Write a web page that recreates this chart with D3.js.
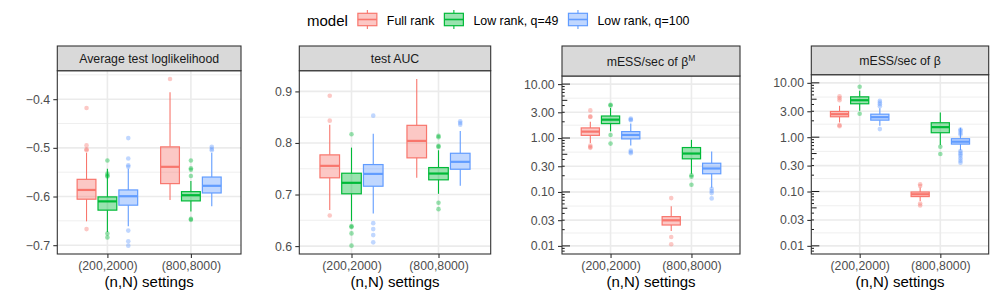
<!DOCTYPE html>
<html>
<head>
<meta charset="utf-8">
<script src="https://cdn.jsdelivr.net/npm/d3@7"></script>
<style>
  body { margin: 0; background: #fff; }
  svg { display: block; font-family: "Liberation Sans", Arial, Helvetica, sans-serif; }
</style>
</head>
<body>
<svg id="chart" width="997" height="299"></svg>
<script>
// ============= Data =============
const settings = ['(200,2000)', '(800,8000)'];
const models = ['Full rank', 'Low rank, q=49', 'Low rank, q=100'];
const modelColors = ['#F8766D', '#00BA38', '#619CFF'];

// Box rows: [setting, model, lower whisker, q1, median, q3, upper whisker]
const loglikBoxes = [
  [0, 0, -0.651, -0.6055, -0.5865, -0.5647, -0.510],
  [0, 1, -0.673, -0.628, -0.610, -0.6008, -0.543],
  [0, 2, -0.661, -0.6178, -0.5994, -0.5865, -0.543],
  [1, 0, -0.607, -0.5735, -0.539, -0.498, -0.386],
  [1, 1, -0.631, -0.609, -0.5973, -0.590, -0.568],
  [1, 2, -0.620, -0.5927, -0.578, -0.560, -0.510]
];
const loglikOutliers = [
  [-0.418, -0.495, -0.503, -0.505, -0.667],
  [-0.526, -0.553, -0.557, -0.559, -0.676, -0.684],
  [-0.480, -0.522, -0.536, -0.539, -0.670, -0.692, -0.701],
  [-0.3586],
  [-0.526, -0.542, -0.545, -0.558, -0.646, -0.648],
  [-0.498, -0.502, -0.505]
];
const loglikTicks = [-0.7, -0.6, -0.5, -0.4];

const aucBoxes = [
  [0, 0, 0.670, 0.7324, 0.7556, 0.7769, 0.8355],
  [0, 1, 0.6484, 0.7014, 0.7227, 0.7413, 0.791],
  [0, 2, 0.6633, 0.7161, 0.740, 0.7581, 0.8181],
  [1, 0, 0.7324, 0.7711, 0.804, 0.8342, 0.924],
  [1, 1, 0.7014, 0.7285, 0.7407, 0.7523, 0.7858],
  [1, 2, 0.7169, 0.749, 0.7634, 0.780, 0.8234]
];
const aucOutliers = [
  [0.8917, 0.8433, 0.6594],
  [0.8168, 0.6387, 0.6370, 0.6246, 0.6008],
  [0.853, 0.6445, 0.6329, 0.6213, 0.6072],
  [],
  [0.8137, 0.8113, 0.7943, 0.7924, 0.684, 0.6716],
  [0.842, 0.8388, 0.8355]
];
const aucTicks = [0.6, 0.7, 0.8, 0.9];

const essMBoxes = [
  [0, 0, 0.813, 1.12, 1.315, 1.54, 2.01],
  [0, 1, 1.33, 1.85, 2.19, 2.56, 3.6],
  [0, 2, 0.724, 0.964, 1.14, 1.315, 1.85],
  [1, 0, 0.0189, 0.0244, 0.0298, 0.0349, 0.0541],
  [1, 1, 0.2175, 0.4116, 0.5157, 0.666, 0.924],
  [1, 2, 0.1199, 0.2175, 0.2724, 0.3412, 0.5615]
];
const essMOutliers = [
  [3.25, 2.52, 2.45, 0.724, 0.68, 0.657],
  [4.15, 4.0, 1.14, 0.789],
  [2.29, 2.2, 2.13, 0.586, 0.55, 0.522],
  [0.077, 0.01466, 0.01074],
  [0.2048, 0.1914, 0.1362],
  [0.1149, 0.1037, 0.0952, 0.076]
];

const essBoxes = [
  [0, 0, 1.867, 2.376, 2.65, 2.97, 3.78],
  [0, 1, 3.06, 4.12, 4.79, 5.53, 7.13],
  [0, 2, 1.62, 2.06, 2.335, 2.65, 3.42],
  [1, 0, 0.067, 0.0807, 0.089, 0.098, 0.1181],
  [1, 1, 0.715, 1.208, 1.53, 1.844, 2.85],
  [1, 2, 0.579, 0.746, 0.826, 0.937, 1.49]
];
const essOutliers = [
  [5.68, 5.22, 4.79, 1.666, 1.597],
  [8.45, 2.70],
  [4.67, 4.35, 4.05, 3.72, 1.41],
  [0.1358, 0.1264, 0.060, 0.0552],
  [0.668, 0.489],
  [1.389, 1.315, 1.208, 1.124, 0.555, 0.519, 0.483, 0.449, 0.4076, 0.37, 0.34]
];
const logTicks = [0.01, 0.03, 0.1, 0.3, 1, 3, 10];


// ============= Setup =============
const svg = d3.select('#chart');
const panelBottom = 254;
const fillAlpha = 0.4;
const fontFamily = '"Liberation Sans", Arial, Helvetica, sans-serif';

const panels = [
  {title: ['Average test loglikelihood'], boxes: loglikBoxes, outliers: loglikOutliers,
   ticks: loglikTicks, log: false, left: 57.3, right: 241, stripTop: 46, stripBottom: 70.7},
  {title: ['test AUC'], boxes: aucBoxes, outliers: aucOutliers,
   ticks: aucTicks, log: false, left: 299.3, right: 490.7, stripTop: 46, stripBottom: 70.7},
  {title: ['mESS/sec of β', 'M'], boxes: essMBoxes, outliers: essMOutliers,
   ticks: logTicks, log: true, left: 562, right: 740, stripTop: 46, stripBottom: 76},
  {title: ['mESS/sec of β'], boxes: essBoxes, outliers: essOutliers,
   ticks: logTicks, log: true, left: 811.3, right: 988.7, stripTop: 46, stripBottom: 74.7}
];

// ggplot style 5% expansion of the data range
function expandDomain(p){
  const vals = p.boxes.flatMap(b => [b[2], b[6]]).concat(p.outliers.flat());
  const [lo, hi] = d3.extent(vals);
  const pad = (hi - lo)*0.05;
  return [lo - pad, hi + pad];
}


// ============= Panels =============
function drawPanel(p){
  const g = svg.append('g').attr('class', 'panel');

  const y = p.log
    ? d3.scaleLog().domain([Math.pow(10, -2.15), Math.pow(10, 1.15)]).range([panelBottom, p.stripBottom])
    : d3.scaleLinear().domain(expandDomain(p)).range([panelBottom, p.stripBottom]);

  const x = d3.scalePoint()
    .domain(settings)
    .range([p.left, p.right])
    .padding(0.6);

  const step = x.step();
  const dodge = step*0.25,
        boxW = step*0.225;

  const [d0, d1] = y.domain();
  const inside = v => v >= Math.min(d0, d1) && v <= Math.max(d0, d1);

  // minor breaks halfway between majors (in transformed space)
  const tr = p.log ? Math.log10 : (v => v);
  const inv = p.log ? (v => Math.pow(10, v)) : (v => v);
  const tt = p.ticks.map(tr);
  let minor = [];
  for(let i = 0; i < tt.length - 1; i++) minor.push((tt[i] + tt[i+1])/2);
  minor.push(tt[0] - (tt[1] - tt[0])/2);
  minor.push(tt[tt.length-1] + (tt[tt.length-1] - tt[tt.length-2])/2);
  minor = minor.map(inv).filter(inside);

  // Background
  g.append('rect')
    .attr('x', p.left).attr('y', p.stripBottom)
    .attr('width', p.right - p.left).attr('height', panelBottom - p.stripBottom)
    .attr('fill', '#fff');

  // Grid
  g.append('g').selectAll('line')
    .data(minor)
    .enter().append('line')
      .attr('x1', p.left).attr('x2', p.right)
      .attr('y1', d => y(d)).attr('y2', d => y(d))
      .attr('stroke', '#EBEBEB').attr('stroke-width', 0.8);

  g.append('g').selectAll('line')
    .data(p.ticks)
    .enter().append('line')
      .attr('x1', p.left).attr('x2', p.right)
      .attr('y1', d => y(d)).attr('y2', d => y(d))
      .attr('stroke', '#EBEBEB').attr('stroke-width', 1.6);

  g.append('g').selectAll('line')
    .data(settings)
    .enter().append('line')
      .attr('x1', d => x(d)).attr('x2', d => x(d))
      .attr('y1', p.stripBottom).attr('y2', panelBottom)
      .attr('stroke', '#EBEBEB').attr('stroke-width', 1.6);

  // Log ticks on the left side
  if(p.log){
    const lt = [];
    for(let k = -3; k <= 1; k++){
      for(let m = 1; m <= 9; m++){
        const v = m*Math.pow(10, k);
        if(inside(v)) lt.push({v: v, len: m === 1 ? 8 : (m === 5 ? 5.3 : 2.7)});
      }
    }
    g.append('g').selectAll('line')
      .data(lt)
      .enter().append('line')
        .attr('x1', p.left).attr('x2', d => p.left + d.len)
        .attr('y1', d => y(d.v)).attr('y2', d => y(d.v))
        .attr('stroke', '#000').attr('stroke-width', 0.9);
  }

  // Boxes
  const cx = b => x(settings[b[0]]) + (b[1] - 1)*dodge;
  const marks = g.append('g').selectAll('g')
    .data(p.boxes)
    .enter().append('g');

  marks.each(function(b, i){
    const sel = d3.select(this),
          col = modelColors[b[1]];

    sel.selectAll('circle')
      .data(p.outliers[i])
      .enter().append('circle')
        .attr('cx', cx(b)).attr('cy', d => y(d))
        .attr('r', 2.3)
        .attr('fill', col).attr('fill-opacity', 0.4);

    sel.append('line')
      .attr('x1', cx(b)).attr('x2', cx(b))
      .attr('y1', y(b[5])).attr('y2', y(b[6]))
      .attr('stroke', col).attr('stroke-width', 1.1);

    sel.append('line')
      .attr('x1', cx(b)).attr('x2', cx(b))
      .attr('y1', y(b[3])).attr('y2', y(b[2]))
      .attr('stroke', col).attr('stroke-width', 1.1);

    sel.append('rect')
      .attr('x', cx(b) - boxW/2).attr('width', boxW)
      .attr('y', y(b[5])).attr('height', y(b[3]) - y(b[5]))
      .attr('fill', col).attr('fill-opacity', fillAlpha)
      .attr('stroke', col).attr('stroke-width', 1.2);

    sel.append('line')
      .attr('x1', cx(b) - boxW/2).attr('x2', cx(b) + boxW/2)
      .attr('y1', y(b[4])).attr('y2', y(b[4]))
      .attr('stroke', col).attr('stroke-width', 2.2);
  });

  // Border
  g.append('rect')
    .attr('x', p.left).attr('y', p.stripBottom)
    .attr('width', p.right - p.left).attr('height', panelBottom - p.stripBottom)
    .attr('fill', 'none').attr('stroke', '#333').attr('stroke-width', 1.1);

  // Axes
  const yAxis = g.append('g')
    .attr('transform', 'translate(' + p.left + ',0)')
    .call(d3.axisLeft(y).tickValues(p.ticks)
      .tickFormat(d3.format(p.log ? '.2f' : '.1f'))
      .tickSize(4).tickPadding(3.3));

  const xAxis = g.append('g')
    .attr('transform', 'translate(0,' + panelBottom + ')')
    .call(d3.axisBottom(x).tickSize(4).tickPadding(3));

  [yAxis, xAxis].forEach(a =>{
    a.attr('font-size', 12.3).attr('font-family', fontFamily);
    a.select('.domain').remove();
    a.selectAll('.tick line').attr('stroke', '#333').attr('stroke-width', 1.1);
    a.selectAll('.tick text')
      .attr('fill', '#4D4D4D')
      .style('font-size', '12.3px');
  });

  g.append('text')
    .attr('x', (p.left + p.right)/2).attr('y', 287)
    .attr('text-anchor', 'middle')
    .style('font-size', '15px')
    .attr('fill', '#000')
    .text('(n,N) settings');

  // Strip
  g.append('rect')
    .attr('x', p.left).attr('y', p.stripTop)
    .attr('width', p.right - p.left).attr('height', p.stripBottom - p.stripTop)
    .attr('fill', '#D9D9D9').attr('stroke', '#333').attr('stroke-width', 1.1);

  const st = g.append('text')
    .attr('x', (p.left + p.right)/2)
    .attr('y', (p.stripTop + p.stripBottom)/2 + 4.5)
    .attr('text-anchor', 'middle')
    .attr('fill', '#1A1A1A')
    .style('font-size', '12.3px');
  st.append('tspan').text(p.title[0]);
  if(p.title[1]){
    st.append('tspan')
      .attr('dy', -5)
      .style('font-size', '8.5px')
      .text(p.title[1]);
  }
}

panels.forEach(drawPanel);


// ============= Legend =============
const legend = svg.append('g').attr('class', 'legend');
var lx = 307;

const legendTitle = legend.append('text')
  .attr('x', lx).attr('y', 26)
  .style('font-size', '15px')
  .attr('fill', '#000')
  .text('model');

lx += legendTitle.node().getComputedTextLength() + 10;

models.forEach((m, i) =>{
  const col = modelColors[i],
        kc = lx + 9.5;

  legend.append('line')
    .attr('x1', kc).attr('x2', kc).attr('y1', 10).attr('y2', 29)
    .attr('stroke', col).attr('stroke-width', 1.1);

  legend.append('rect')
    .attr('x', lx).attr('y', 13.3).attr('width', 19).attr('height', 12.4)
    .attr('fill', '#fff');

  legend.append('rect')
    .attr('x', lx).attr('y', 13.3).attr('width', 19).attr('height', 12.4)
    .attr('fill', col).attr('fill-opacity', fillAlpha)
    .attr('stroke', col).attr('stroke-width', 1.2);

  legend.append('line')
    .attr('x1', lx).attr('x2', lx + 19).attr('y1', 19.5).attr('y2', 19.5)
    .attr('stroke', col).attr('stroke-width', 1.6);

  const label = legend.append('text')
    .attr('x', lx + 29).attr('y', 25)
    .style('font-size', '12.4px')
    .attr('fill', '#000')
    .text(m);

  lx += 29 + label.node().getComputedTextLength() + 10;
});
</script>
</body>
</html>
